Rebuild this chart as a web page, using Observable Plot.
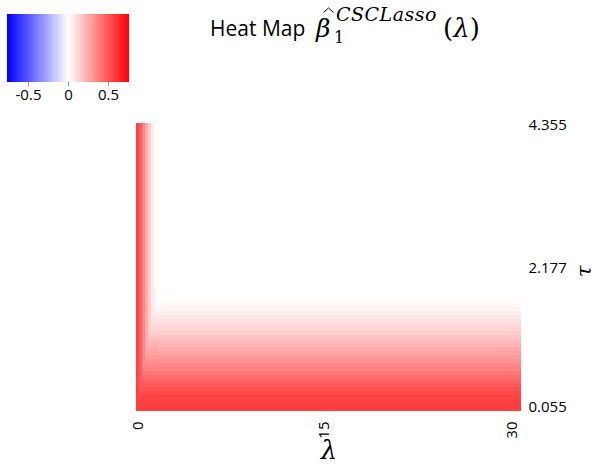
<!DOCTYPE html>
<html><head><meta charset="utf-8">
<script src="https://cdn.jsdelivr.net/npm/d3@7"></script>
<script src="https://cdn.jsdelivr.net/npm/@observablehq/plot@0.6"></script>
<style>
html,body{margin:0;padding:0;background:#fff;}
#wrap{position:relative;width:597px;height:466px;overflow:hidden;font-family:"Open Sans",sans-serif;}
#chart{position:absolute;left:0;top:0;}
#legend{position:absolute;left:7px;top:14px;}
#title{position:absolute;left:0;top:0;}
#title .m{font-family:"DejaVu Serif",serif;}
#title .i{font-style:italic;}
</style></head><body>
<div id="wrap">
  <div id="chart"></div>
  <div id="legend"></div>
  <svg id="title" width="597" height="60">
    <text x="210" y="36" style="font-family:'Open Sans';font-size:21px" fill="#000">Heat Map</text>
    <text class="m i" x="316" y="37" style="font-size:25px" fill="#000">β</text>
    <path d="M323.5,12.5 L328.5,8 L333.5,12.5" fill="none" stroke="#000" stroke-width="1"/>
    <text class="m i" x="336" y="21" style="font-size:19px;letter-spacing:0.5px" fill="#000">CSCLasso</text>
    <text class="m" x="334" y="43" style="font-size:16px" fill="#000">1</text>
    <text class="m" x="443" y="37" style="font-size:26px" fill="#000">(<tspan class="i">λ</tspan>)</text>
  </svg>
</div>
<script>
// λ column edges (narrow columns near λ = 0, then the rest of the range)
const lambdaEdges = [0, 0.234, 0.469, 0.703, 0.938, 1.172, 1.406, 30];
// β̂ values in the narrow λ columns (constant over τ)
const betaLambda = [0.57, 0.49, 0.37, 0.25, 0.15, 0.07, 0];
// τ row edges
const tauEdges = [0.055, 0.115, 0.175, 0.235, 0.295, 0.355, 0.415, 0.475, 0.535, 0.595,
  0.655, 0.715, 0.775, 0.835, 0.895, 0.955, 1.015, 1.075, 1.135, 1.195, 1.255, 1.315,
  1.375, 1.435, 1.495, 1.555, 1.615, 1.675, 1.735, 1.795, 1.855, 4.355];
// β̂ values along τ for λ away from 0
const betaTau = [0.58, 0.58, 0.575, 0.57, 0.55, 0.525, 0.50, 0.47, 0.44, 0.41, 0.385,
  0.355, 0.33, 0.305, 0.28, 0.255, 0.23, 0.205, 0.18, 0.155, 0.13, 0.11, 0.09, 0.07,
  0.05, 0.035, 0.02, 0.01, 0.004, 0, 0];
const lambdaTicks = [0, 15, 30];
const tauTicks = [0.055, 2.177, 4.355];
const legendTicks = [-0.5, 0, 0.5];
const colorLimits = [-0.77, 0.77];
const colorStops = ["#0000ff", "#ffffff", "#ff0000"];

const cells = [];
for (let i = 0; i < betaLambda.length; i++) {
  for (let j = 0; j < betaTau.length; j++) {
    cells.push({
      x1: lambdaEdges[i], x2: lambdaEdges[i + 1],
      y1: tauEdges[j], y2: tauEdges[j + 1],
      v: Math.max(betaLambda[i], betaTau[j])
    });
  }
}

const colorOpts = {
  type: "linear",
  domain: colorLimits,
  interpolate: d3.piecewise(d3.interpolateRgb, colorStops)
};

const tickText = {fontSize: 15, fontFamily: "Open Sans", fill: "#000"};
const xFirst = lambdaTicks[0], xLast = lambdaTicks[lambdaTicks.length - 1];
const yFirst = tauTicks[0], yLast = tauTicks[tauTicks.length - 1];

const chart = Plot.plot({
  width: 597, height: 466,
  marginLeft: 136, marginRight: 76, marginTop: 123, marginBottom: 55,
  style: {fontFamily: "Open Sans", fontSize: "15px", color: "#000", background: "transparent"},
  x: {domain: [0, 30], axis: null},
  y: {domain: [0.055, 4.355], axis: null},
  color: colorOpts,
  marks: [
    Plot.rect(cells, {x1: "x1", x2: "x2", y1: "y1", y2: "y2", fill: "v", shapeRendering: "crispEdges"}),
    // λ tick labels (rotated), end labels pulled slightly inward as in the reference
    Plot.text(lambdaTicks, {x: d => d, text: d => String(d), filter: d => d === xFirst, frameAnchor: "bottom", dy: 10, dx: 6, rotate: -90, textAnchor: "end", ...tickText}),
    Plot.text(lambdaTicks, {x: d => d, text: d => String(d), filter: d => d !== xFirst && d !== xLast, frameAnchor: "bottom", dy: 10, rotate: -90, textAnchor: "end", ...tickText}),
    Plot.text(lambdaTicks, {x: d => d, text: d => String(d), filter: d => d === xLast, frameAnchor: "bottom", dy: 10, dx: -5, rotate: -90, textAnchor: "end", ...tickText}),
    // τ tick labels on the right
    Plot.text(tauTicks, {y: d => d, text: d => d.toFixed(3), filter: d => d === yFirst, frameAnchor: "right", dx: 7, dy: -4, textAnchor: "start", ...tickText}),
    Plot.text(tauTicks, {y: d => d, text: d => d.toFixed(3), filter: d => d !== yFirst && d !== yLast, frameAnchor: "right", dx: 7, dy: -1, textAnchor: "start", ...tickText}),
    Plot.text(tauTicks, {y: d => d, text: d => d.toFixed(3), filter: d => d === yLast, frameAnchor: "right", dx: 7, dy: 2, textAnchor: "start", ...tickText}),
    Plot.text(["τ"], {text: d => d, frameAnchor: "right", dx: 63, dy: -2, rotate: -90, fontSize: 21, fontFamily: "DejaVu Serif", fontStyle: "italic"}),
    Plot.text(["λ"], {text: d => d, frameAnchor: "bottom", lineAnchor: "middle", dy: 39, fontSize: 26, fontFamily: "DejaVu Serif", fontStyle: "italic"})
  ]
});
document.getElementById("chart").appendChild(chart);

const legend = Plot.legend({
  color: colorOpts,
  width: 122, height: 98,
  marginTop: 0, marginBottom: 30, marginLeft: 0, marginRight: 0,
  ticks: legendTicks, tickSize: 4,
  tickFormat: d => String(d),
  style: {fontFamily: "Open Sans", fontSize: "15px", color: "#000", background: "transparent"}
});
document.getElementById("legend").appendChild(legend);
legend.querySelectorAll(".tick line").forEach(l => { l.setAttribute("y1", 0); l.setAttribute("stroke", "#999"); });
</script>
</body></html>
